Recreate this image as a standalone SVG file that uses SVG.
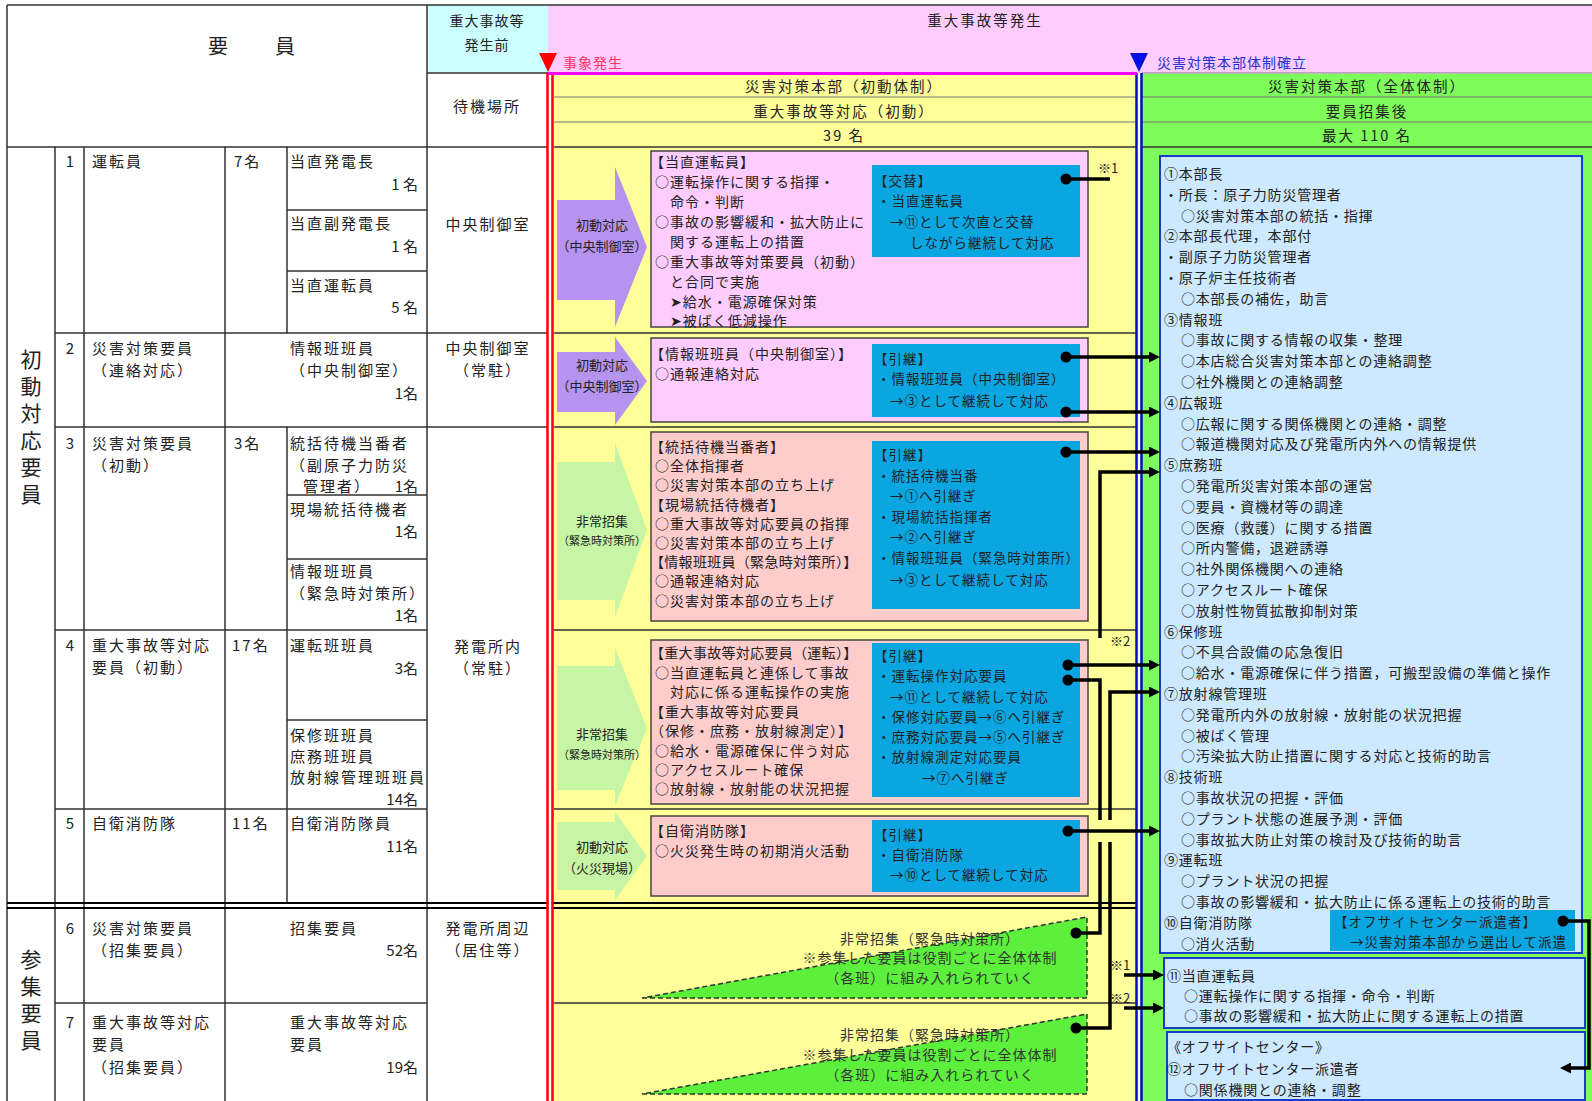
<svg xmlns="http://www.w3.org/2000/svg" width="1592" height="1101" viewBox="0 0 1592 1101">
<defs>
<style>
text{font-family:"Noto Sans CJK JP","Noto Sans CJK SC","DejaVu Sans",sans-serif;fill:#222;dominant-baseline:central}
.lt{font-size:15px;letter-spacing:2px}
.ln{font-size:15px}
.md{font-size:14px;letter-spacing:1px}
.bl{font-size:13.5px;letter-spacing:1px}
.rt{font-size:14px;letter-spacing:0.8px}
.hd{font-size:14.5px;letter-spacing:2px}
.cv{font-size:13px}
.cs{font-size:11px}
.vt{font-size:21px}
.nt{font-size:13px}
.tt{font-size:14px;letter-spacing:1px;fill:#333}
.c{text-anchor:middle}
.r{text-anchor:end}
.g{stroke:#333;stroke-width:1.5;fill:none}
.gl{stroke:#777;stroke-width:1;fill:none}
.pk{fill:#ffccff;stroke:#444;stroke-width:1.5}
.sa{fill:#ffcccc;stroke:#444;stroke-width:1.5}
.bb{fill:#0aa6e2}
.lb{fill:#cce9ff;stroke:#1a3ccc;stroke-width:2}
.pu{fill:#b793f0}
.gr{fill:#c5f5a5}
.tri{fill:#5cf03c;stroke:#333;stroke-width:1.5;stroke-dasharray:5 3}
.cn{fill:none;stroke:#000;stroke-width:3.5}
.dot{fill:#000}
</style>
<marker id="ah" viewBox="0 0 10 10" refX="0" refY="5" markerWidth="11" markerHeight="11" markerUnits="userSpaceOnUse" orient="auto"><path d="M0,0 L10,5 L0,10 Z" fill="#000"/></marker>
</defs>

<rect x="0" y="0" width="1592" height="1101" fill="#fff"/>

<g id="background">
<rect x="427" y="5" width="121" height="68" fill="#ccffff"/>
<rect x="548" y="5" width="1044" height="68" fill="#ffccff"/>
<rect x="554" y="75" width="582" height="1026" fill="#ffff99"/>
<rect x="1142" y="74" width="450" height="1027" fill="#7dfc5a"/>
</g>

<g id="grid">
<path class="g" d="M7,5 H1592 M7,5 V1101 M7,147 H548 M427,73 H548 M427,5 V1101 M55,147 V1101 M84,147 V1101 M225,147 V1101 M287,147 V333 M287,427 V903 M55,333 H548 M55,427 H548 M55,630 H427 M55,809 H427 M55,1003 H427 M287,210 H427 M287,271 H427 M287,495 H427 M287,559 H427 M287,720 H427"/>
<path class="gl" d="M554,97 H1136 M554,122 H1136 M1142,73 H1592 M1142,97 H1592 M1142,122 H1592"/>
<path class="g" d="M554,147 H1136 M1142,147 H1592 M554,333 H1136 M554,427 H1136 M554,630 H1136 M554,809 H1136 M554,1003 H1136"/>
<path d="M7,903 H1136 M7,908 H1136" stroke="#000" stroke-width="2.2" fill="none"/>
<rect x="548.5" y="73" width="3" height="1028" fill="#fff"/>
<path d="M547.5,73 V1101 M552.5,73 V1101" stroke="#f00" stroke-width="2.5"/>
<rect x="1137.5" y="73" width="3" height="1028" fill="#fff"/>
<path d="M1136.5,73 V1101 M1141.5,73 V1101" stroke="#0010c0" stroke-width="2.5"/>
<path d="M548,73.5 H1137" stroke="#ff00ff" stroke-width="3"/>
<polygon points="539,53 557,53 548,72" fill="#f00"/>
<polygon points="1130,53 1148,53 1139,72" fill="#0010e0"/>
</g>

<g id="header">
<text class="c" x="218" y="45" style="font-size:20px">要</text>
<text class="c" x="285" y="45" style="font-size:20px">員</text>
<text class="md c" x="487" y="20">重大事故等</text>
<text class="md c" x="487" y="44">発生前</text>
<text class="lt c" x="487" y="105">待機場所</text>
<text class="hd c" x="985" y="19">重大事故等発生</text>
<text class="md" x="563" y="62" style="fill:#ff3366">事象発生</text>
<text class="md" x="1157" y="62" style="fill:#2233cc">災害対策本部体制確立</text>
<text class="hd c" x="844" y="85">災害対策本部（初動体制）</text>
<text class="hd c" x="844" y="110">重大事故等対応（初動）</text>
<text class="hd c" x="844" y="134">39 名</text>
<text class="hd c" x="1367" y="85">災害対策本部（全体体制）</text>
<text class="hd c" x="1367" y="110">要員招集後</text>
<text class="hd c" x="1367" y="134">最大 110 名</text>
</g>

<g id="category-initial">
<text class="vt c" x="31" y="358">初</text>
<text class="vt c" x="31" y="385">動</text>
<text class="vt c" x="31" y="412">対</text>
<text class="vt c" x="31" y="439">応</text>
<text class="vt c" x="31" y="466">要</text>
<text class="vt c" x="31" y="493">員</text>
</g>
<g id="category-gather">
<text class="vt c" x="31" y="958">参</text>
<text class="vt c" x="31" y="985">集</text>
<text class="vt c" x="31" y="1012">要</text>
<text class="vt c" x="31" y="1039">員</text>
</g>

<g id="row1-table">
<text class="ln c" x="70" y="160">1</text>
<text class="lt" x="92" y="160">運転員</text>
<text class="lt" x="234" y="160">7名</text>
<text class="lt" x="290" y="160">当直発電長</text>
<text class="ln r" x="418" y="183">1 名</text>
<text class="lt" x="290" y="222">当直副発電長</text>
<text class="ln r" x="418" y="245">1 名</text>
<text class="lt" x="290" y="284">当直運転員</text>
<text class="ln r" x="418" y="306">5 名</text>
<text class="lt c" x="488" y="223">中央制御室</text>
</g>
<g id="row2-table">
<text class="ln c" x="70" y="347">2</text>
<text class="lt" x="92" y="347">災害対策要員</text>
<text class="lt" x="92" y="369">（連絡対応）</text>
<text class="lt" x="290" y="347">情報班班員</text>
<text class="lt" x="290" y="369">（中央制御室）</text>
<text class="ln r" x="418" y="392">1名</text>
<text class="lt c" x="488" y="347">中央制御室</text>
<text class="lt c" x="488" y="369">（常駐）</text>
</g>
<g id="row3-table">
<text class="ln c" x="70" y="442">3</text>
<text class="lt" x="92" y="442">災害対策要員</text>
<text class="lt" x="92" y="464">（初動）</text>
<text class="lt" x="234" y="442">3名</text>
<text class="lt" x="290" y="442">統括待機当番者</text>
<text class="lt" x="290" y="464">（副原子力防災</text>
<text class="lt" x="303" y="485">管理者）</text>
<text class="ln r" x="418" y="485">1名</text>
<text class="lt" x="290" y="508">現場統括待機者</text>
<text class="ln r" x="418" y="530">1名</text>
<text class="lt" x="290" y="570">情報班班員</text>
<text class="lt" x="290" y="592">（緊急時対策所）</text>
<text class="ln r" x="418" y="614">1名</text>
</g>
<g id="row4-table">
<text class="ln c" x="70" y="644">4</text>
<text class="lt" x="92" y="644">重大事故等対応</text>
<text class="lt" x="92" y="666">要員（初動）</text>
<text class="lt" x="232" y="644">17名</text>
<text class="lt" x="290" y="644">運転班班員</text>
<text class="ln r" x="418" y="667">3名</text>
<text class="lt" x="290" y="734">保修班班員</text>
<text class="lt" x="290" y="755">庶務班班員</text>
<text class="lt" x="290" y="776">放射線管理班班員</text>
<text class="ln r" x="418" y="798">14名</text>
<text class="lt c" x="488" y="645">発電所内</text>
<text class="lt c" x="488" y="667">（常駐）</text>
</g>
<g id="row5-table">
<text class="ln c" x="70" y="822">5</text>
<text class="lt" x="92" y="822">自衛消防隊</text>
<text class="lt" x="232" y="822">11名</text>
<text class="lt" x="290" y="822">自衛消防隊員</text>
<text class="ln r" x="418" y="845">11名</text>
</g>
<g id="row6-table">
<text class="ln c" x="70" y="927">6</text>
<text class="lt" x="92" y="927">災害対策要員</text>
<text class="lt" x="92" y="949">（招集要員）</text>
<text class="lt" x="290" y="927">招集要員</text>
<text class="ln r" x="418" y="949">52名</text>
<text class="lt c" x="488" y="927">発電所周辺</text>
<text class="lt c" x="488" y="949">（居住等）</text>
</g>
<g id="row7-table">
<text class="ln c" x="70" y="1021">7</text>
<text class="lt" x="92" y="1021">重大事故等対応</text>
<text class="lt" x="92" y="1043">要員</text>
<text class="lt" x="92" y="1066">（招集要員）</text>
<text class="lt" x="290" y="1021">重大事故等対応</text>
<text class="lt" x="290" y="1043">要員</text>
<text class="ln r" x="418" y="1066">19名</text>
</g>

<g id="chevron1">
<path class="pu" d="M557,200 H615 V167 L647,247 L615,327 V300 H557 Z"/>
<text class="cv c" x="602" y="224">初動対応</text>
<text class="cv c" x="602" y="245">（中央制御室）</text>
</g>
<g id="chevron2">
<path class="pu" d="M557,352 H615 V337 L647,381 L615,425 V412 H557 Z"/>
<text class="cv c" x="602" y="364">初動対応</text>
<text class="cv c" x="602" y="385">（中央制御室）</text>
</g>
<g id="chevron3">
<path class="gr" d="M557,462 H615 V443 L647,530 L615,617 V600 H557 Z"/>
<text class="cv c" x="602" y="520">非常招集</text>
<text class="cs c" x="602" y="540">（緊急時対策所）</text>
</g>
<g id="chevron4">
<path class="gr" d="M557,666 H615 V648 L647,728 L615,806 V790 H557 Z"/>
<text class="cv c" x="602" y="733">非常招集</text>
<text class="cs c" x="602" y="754">（緊急時対策所）</text>
</g>
<g id="chevron5">
<path class="gr" d="M557,822 H615 V812 L647,856 L615,900 V890 H557 Z"/>
<text class="cv c" x="602" y="846">初動対応</text>
<text class="cv c" x="602" y="867">（火災現場）</text>
</g>

<g id="box1">
<rect class="pk" x="651" y="151" width="437" height="176"/>
<text class="md" x="650" y="161">【当直運転員】</text>
<text class="md" x="655" y="181">○運転操作に関する指揮・</text>
<text class="md" x="670" y="201">命令・判断</text>
<text class="md" x="655" y="221">○事故の影響緩和・拡大防止に</text>
<text class="md" x="670" y="241">関する運転上の措置</text>
<text class="md" x="655" y="261">○重大事故等対策要員（初動）</text>
<text class="md" x="670" y="281">と合同で実施</text>
<text class="md" x="670" y="301">➤給水・電源確保対策</text>
<text class="md" x="670" y="320">➤被ばく低減操作</text>
<rect class="bb" x="872" y="165" width="208" height="92"/>
<text class="bl" x="874" y="180">【交替】</text>
<text class="bl" x="877" y="200">・当直運転員</text>
<text class="bl" x="890" y="221">→⑪として次直と交替</text>
<text class="bl" x="910" y="242">しながら継続して対応</text>
</g>
<g id="box2">
<rect class="pk" x="651" y="338" width="437" height="84"/>
<text class="md" x="650" y="353">【情報班班員（中央制御室）】</text>
<text class="md" x="655" y="373">○通報連絡対応</text>
<rect class="bb" x="872" y="344" width="208" height="73"/>
<text class="bl" x="874" y="358">【引継】</text>
<text class="bl" x="877" y="378">・情報班班員（中央制御室）</text>
<text class="bl" x="890" y="400">→③として継続して対応</text>
</g>
<g id="box3">
<rect class="sa" x="651" y="432" width="437" height="189"/>
<text class="md" x="650" y="446">【統括待機当番者】</text>
<text class="md" x="655" y="465">○全体指揮者</text>
<text class="md" x="655" y="484">○災害対策本部の立ち上げ</text>
<text class="md" x="650" y="504">【現場統括待機者】</text>
<text class="md" x="655" y="523">○重大事故等対応要員の指揮</text>
<text class="md" x="655" y="542">○災害対策本部の立ち上げ</text>
<text class="md" x="650" y="561" style="letter-spacing:0.3px">【情報班班員（緊急時対策所）】</text>
<text class="md" x="655" y="580">○通報連絡対応</text>
<text class="md" x="655" y="600">○災害対策本部の立ち上げ</text>
<rect class="bb" x="872" y="441" width="208" height="168"/>
<text class="bl" x="874" y="454">【引継】</text>
<text class="bl" x="877" y="475">・統括待機当番</text>
<text class="bl" x="890" y="495">→①へ引継ぎ</text>
<text class="bl" x="877" y="516">・現場統括指揮者</text>
<text class="bl" x="890" y="536">→②へ引継ぎ</text>
<text class="bl" x="877" y="557">・情報班班員（緊急時対策所）</text>
<text class="bl" x="890" y="579">→③として継続して対応</text>
</g>
<g id="box4">
<rect class="sa" x="651" y="640" width="437" height="164"/>
<text class="md" x="650" y="652" style="letter-spacing:0.3px">【重大事故等対応要員（運転）】</text>
<text class="md" x="655" y="672">○当直運転員と連係して事故</text>
<text class="md" x="670" y="691">対応に係る運転操作の実施</text>
<text class="md" x="650" y="711">【重大事故等対応要員</text>
<text class="md" x="650" y="730">（保修・庶務・放射線測定）】</text>
<text class="md" x="655" y="750">○給水・電源確保に伴う対応</text>
<text class="md" x="655" y="769">○アクセスルート確保</text>
<text class="md" x="655" y="788">○放射線・放射能の状況把握</text>
<rect class="bb" x="872" y="643" width="208" height="154"/>
<text class="bl" x="874" y="655">【引継】</text>
<text class="bl" x="877" y="675">・運転操作対応要員</text>
<text class="bl" x="890" y="696">→⑪として継続して対応</text>
<text class="bl" x="877" y="716">・保修対応要員→⑥へ引継ぎ</text>
<text class="bl" x="877" y="736">・庶務対応要員→⑤へ引継ぎ</text>
<text class="bl" x="877" y="756">・放射線測定対応要員</text>
<text class="bl" x="922" y="777">→⑦へ引継ぎ</text>
</g>
<g id="box5">
<rect class="sa" x="651" y="816" width="437" height="80"/>
<text class="md" x="650" y="830">【自衛消防隊】</text>
<text class="md" x="655" y="850">○火災発生時の初期消火活動</text>
<rect class="bb" x="872" y="820" width="208" height="72"/>
<text class="bl" x="874" y="834">【引継】</text>
<text class="bl" x="877" y="854">・自衛消防隊</text>
<text class="bl" x="890" y="874">→⑩として継続して対応</text>
</g>
<g id="gather6">
<polygon class="tri" points="642,998 1087,998 1087,917"/>
<text class="tt c" x="930" y="938">非常招集（緊急時対策所）</text>
<text class="tt c" x="930" y="957">※参集した要員は役割ごとに全体体制</text>
<text class="tt c" x="930" y="977">（各班）に組み入れられていく</text>
</g>
<g id="gather7">
<polygon class="tri" points="642,1094 1087,1094 1087,1014"/>
<text class="tt c" x="930" y="1034">非常招集（緊急時対策所）</text>
<text class="tt c" x="930" y="1054">※参集した要員は役割ごとに全体体制</text>
<text class="tt c" x="930" y="1074">（各班）に組み入れられていく</text>
</g>

<g id="hq-full">
<rect class="lb" x="1160" y="156" width="422" height="797"/>
<text class="rt" x="1164" y="173">①本部長</text>
<text class="rt" x="1164" y="193.8">・所長：原子力防災管理者</text>
<text class="rt" x="1181" y="214.6">○災害対策本部の統括・指揮</text>
<text class="rt" x="1164" y="235.4">②本部長代理，本部付</text>
<text class="rt" x="1164" y="256.2">・副原子力防災管理者</text>
<text class="rt" x="1164" y="277">・原子炉主任技術者</text>
<text class="rt" x="1181" y="297.8">○本部長の補佐，助言</text>
<text class="rt" x="1164" y="318.6">③情報班</text>
<text class="rt" x="1181" y="339.4">○事故に関する情報の収集・整理</text>
<text class="rt" x="1181" y="360.2">○本店総合災害対策本部との連絡調整</text>
<text class="rt" x="1181" y="381">○社外機関との連絡調整</text>
<text class="rt" x="1164" y="401.8">④広報班</text>
<text class="rt" x="1181" y="422.6">○広報に関する関係機関との連絡・調整</text>
<text class="rt" x="1181" y="443.4">○報道機関対応及び発電所内外への情報提供</text>
<text class="rt" x="1164" y="464.2">⑤庶務班</text>
<text class="rt" x="1181" y="485">○発電所災害対策本部の運営</text>
<text class="rt" x="1181" y="505.8">○要員・資機材等の調達</text>
<text class="rt" x="1181" y="526.6">○医療（救護）に関する措置</text>
<text class="rt" x="1181" y="547.4">○所内警備，退避誘導</text>
<text class="rt" x="1181" y="568.2">○社外関係機関への連絡</text>
<text class="rt" x="1181" y="589">○アクセスルート確保</text>
<text class="rt" x="1181" y="609.8">○放射性物質拡散抑制対策</text>
<text class="rt" x="1164" y="630.6">⑥保修班</text>
<text class="rt" x="1181" y="651.4">○不具合設備の応急復旧</text>
<text class="rt" x="1181" y="672.2">○給水・電源確保に伴う措置，可搬型設備の準備と操作</text>
<text class="rt" x="1164" y="693">⑦放射線管理班</text>
<text class="rt" x="1181" y="713.8">○発電所内外の放射線・放射能の状況把握</text>
<text class="rt" x="1181" y="734.6">○被ばく管理</text>
<text class="rt" x="1181" y="755.4">○汚染拡大防止措置に関する対応と技術的助言</text>
<text class="rt" x="1164" y="776.2">⑧技術班</text>
<text class="rt" x="1181" y="797">○事故状況の把握・評価</text>
<text class="rt" x="1181" y="817.8">○プラント状態の進展予測・評価</text>
<text class="rt" x="1181" y="838.6">○事故拡大防止対策の検討及び技術的助言</text>
<text class="rt" x="1164" y="859.4">⑨運転班</text>
<text class="rt" x="1181" y="880.2">○プラント状況の把握</text>
<text class="rt" x="1181" y="901">○事故の影響緩和・拡大防止に係る運転上の技術的助言</text>
<text class="rt" x="1164" y="921.8">⑩自衛消防隊</text>
<text class="rt" x="1181" y="942.6">○消火活動</text>
</g>
<g id="offsite-dispatch">
<rect class="bb" x="1330" y="910" width="245" height="41"/>
<text class="bl" x="1334" y="921">【オフサイトセンター派遣者】</text>
<text class="bl" x="1350" y="941">→災害対策本部から選出して派遣</text>
</g>
<g id="hq-operator">
<rect class="lb" x="1164" y="958" width="421" height="70"/>
<text class="rt" x="1167" y="975">⑪当直運転員</text>
<text class="rt" x="1184" y="995">○運転操作に関する指揮・命令・判断</text>
<text class="rt" x="1184" y="1015">○事故の影響緩和・拡大防止に関する運転上の措置</text>
</g>
<g id="offsite-center">
<rect class="lb" x="1167" y="1032" width="418" height="68"/>
<text class="rt" x="1167" y="1046">《オフサイトセンター》</text>
<text class="rt" x="1167" y="1068">⑫オフサイトセンター派遣者</text>
<text class="rt" x="1184" y="1089">○関係機関との連絡・調整</text>
</g>

<g id="connectors">
<path class="cn" d="M1066,179 H1110"/>
<path class="cn" d="M1066,357 H1149" marker-end="url(#ah)"/>
<path class="cn" d="M1066,412 H1149" marker-end="url(#ah)"/>
<path class="cn" d="M1066,452 H1149" marker-end="url(#ah)"/>
<path class="cn" d="M1100,638 V472 H1149" marker-end="url(#ah)"/>
<path class="cn" d="M1068,665 H1149" marker-end="url(#ah)"/>
<path class="cn" d="M1068,680 H1100 V933 H1076"/>
<path class="cn" d="M1076,1028 H1110 V692 H1149" marker-end="url(#ah)"/>
<rect x="1093" y="820" width="24" height="22" fill="#ffff99"/>
<path class="cn" d="M1068,831 H1149" marker-end="url(#ah)"/>
<path class="cn" d="M1124,975 H1153" marker-end="url(#ah)"/>
<path class="cn" d="M1124,1008 H1153" marker-end="url(#ah)"/>
<path class="cn" d="M1563,921 H1589 V1068 H1571" marker-end="url(#ah)"/>
<circle class="dot" cx="1066" cy="179" r="5.5"/>
<circle class="dot" cx="1066" cy="357" r="5.5"/>
<circle class="dot" cx="1066" cy="412" r="5.5"/>
<circle class="dot" cx="1066" cy="452" r="5.5"/>
<circle class="dot" cx="1068" cy="665" r="5.5"/>
<circle class="dot" cx="1068" cy="680" r="5.5"/>
<circle class="dot" cx="1068" cy="831" r="5.5"/>
<circle class="dot" cx="1076" cy="933" r="5.5"/>
<circle class="dot" cx="1076" cy="1028" r="5.5"/>
<circle class="dot" cx="1563" cy="921" r="5.5"/>
<text class="nt" x="1098" y="167">※1</text>
<text class="nt" x="1110" y="640">※2</text>
<text class="nt" x="1110" y="964">※1</text>
<text class="nt" x="1110" y="997">※2</text>
</g>
</svg>
